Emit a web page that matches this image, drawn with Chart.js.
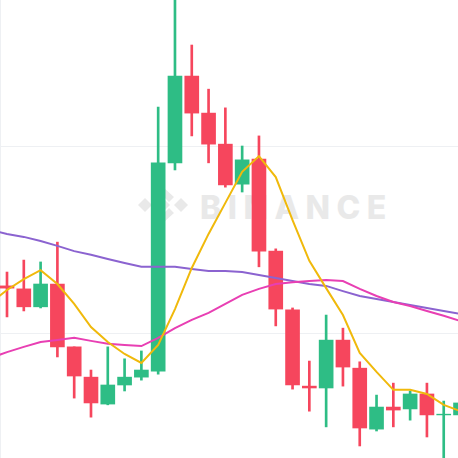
<!DOCTYPE html>
<html>
<head>
<meta charset="utf-8">
<script src="https://cdn.jsdelivr.net/npm/chart.js@4.4.1/dist/chart.umd.min.js"></script>
<style>
  html, body { margin: 0; padding: 0; background: #fff; }
  #wrap { position: relative; width: 458px; height: 458px; overflow: hidden; }
  #mark { position: absolute; left: 138px; top: 187px; height: 36px; display: flex; align-items: center; z-index: 0; }
  #mark span { font-family: "Inter", "DejaVu Sans", sans-serif; font-weight: 800; font-size: 32px; letter-spacing: 6.5px; color: #E9E9E9; margin-left: 12px; line-height: 36px; padding-top: 6px; }
  #chartBox { position: absolute; left: 0; top: 0; width: 458px; height: 458px; z-index: 1; }
</style>
</head>
<body>
<div id="wrap">
  <div id="mark">
    <svg width="50" height="36" viewBox="0 0 50 36">
      <g fill="#E9E9E9">
        <polygon points="25,0 36,10 31,15 25,9 19,15 14,10"/>
        <polygon points="25,36 36,26 31,21 25,27 19,21 14,26"/>
        <polygon points="25,11 32,18 25,25 18,18"/>
        <polygon points="0,18 7,11 14,18 7,25"/>
        <polygon points="36,18 43,11 50,18 43,25"/>
      </g>
    </svg>
    <span>BINANCE</span>
  </div>
  <div id="chartBox"><canvas id="klineChart"></canvas></div>
</div>
<script>
// candles, index 0..27
const opens  = [112.6, 111.8, 107.0, 113.1, 96.3, 88.2, 81.0, 86.1, 88.2, 89.8, 145.5, 168.7, 158.8, 150.5, 139.8, 146.5, 121.9, 106.2, 85.8, 85.3, 98.1, 90.6, 74.3, 80.2, 79.7, 83.7, 78.1, 78.1];
const highs  = [116.3, 119.5, 119.0, 124.3, 96.3, 90.1, 96.3, 93.1, 95.2, 160.4, 192.0, 177.0, 165.2, 160.2, 150.0, 152.7, 122.5, 106.7, 92.5, 104.8, 101.3, 92.3, 83.4, 86.6, 84.5, 86.6, 81.8, 82.1];
const lows   = [104.3, 105.9, 106.7, 93.6, 82.6, 77.5, 80.8, 84.5, 87.4, 89.0, 143.6, 152.7, 145.5, 139.0, 137.7, 117.7, 101.9, 85.0, 79.1, 74.9, 85.8, 69.8, 73.8, 74.9, 76.7, 72.2, 63.0, 77.3];
const closes = [112.0, 107.0, 113.1, 96.3, 88.5, 81.3, 86.1, 88.2, 90.1, 145.5, 168.7, 158.8, 150.5, 139.6, 146.3, 121.9, 106.4, 86.1, 85.3, 98.1, 90.9, 74.6, 80.2, 79.4, 83.7, 78.1, 78.3, 81.3];

// moving averages, index -1..27
const ma7  = [108.0, 111.5, 114.4, 116.8, 113.1, 107.8, 101.6, 97.6, 94.4, 92.0, 96.8, 106.4, 117.4, 126.5, 134.8, 143.1, 147.3, 141.7, 130.2, 119.3, 112.0, 104.8, 94.7, 89.6, 84.8, 84.8, 83.7, 80.8, 79.1];
const ma25 = [93.3, 94.9, 96.3, 97.6, 98.1, 98.7, 97.9, 97.1, 96.8, 96.5, 98.7, 101.3, 103.5, 105.4, 107.8, 110.2, 111.8, 113.1, 113.6, 113.9, 114.2, 113.9, 111.8, 109.9, 108.3, 107.2, 105.9, 104.6, 103.2];
const ma99 = [127.5, 126.5, 125.7, 124.6, 123.3, 121.9, 120.9, 119.8, 118.7, 117.7, 117.7, 117.7, 117.1, 116.6, 116.6, 116.3, 115.5, 114.7, 113.9, 113.1, 112.6, 111.2, 109.9, 109.1, 108.3, 107.5, 106.7, 105.9, 105.1];

const gridPrices = [100, 150];
const gridIndex = [14];

const UP = "#2EBD85";
const DOWN = "#F6465D";

const candleColors = opens.map((o, i) => closes[i] >= o ? UP : DOWN);
const bodies = opens.map((o, i) => ({ x: i, y: [o, closes[i]] }));
const wicks = lows.map((l, i) => ({ x: i, y: [l, highs[i]] }));
const toLine = arr => arr.map((v, i) => ({ x: i - 1, y: v }));

const hideSize = s => { s.width = 0; s.height = 0; };

new Chart(document.getElementById("klineChart"), {
  data: {
    datasets: [
      { type: "line", data: toLine(ma7), borderColor: "#F0B90B", borderWidth: 2, pointRadius: 0, tension: 0, order: 0 },
      { type: "line", data: toLine(ma25), borderColor: "#E83FB3", borderWidth: 2, pointRadius: 0, tension: 0, order: 0 },
      { type: "line", data: toLine(ma99), borderColor: "#8B63D0", borderWidth: 2, pointRadius: 0, tension: 0, order: 0 },
      { type: "bar", data: bodies, backgroundColor: candleColors, borderColor: candleColors, borderWidth: 0, barThickness: 14, grouped: false, order: 1 },
      { type: "bar", data: wicks, backgroundColor: candleColors, borderWidth: 0, barThickness: 2, grouped: false, order: 2 }
    ]
  },
  options: {
    responsive: true,
    maintainAspectRatio: false,
    animation: false,
    layout: { padding: 0 },
    plugins: { legend: { display: false }, tooltip: { enabled: false } },
    scales: {
      x: {
        type: "linear",
        min: -0.417,
        max: 26.85,
        offset: false,
        ticks: { display: false },
        border: { display: false },
        grid: { color: "#EEF0F3", lineWidth: 1, drawTicks: false },
        afterBuildTicks: s => { s.ticks = gridIndex.map(v => ({ value: v })); },
        afterFit: hideSize
      },
      y: {
        min: 66.58,
        max: 189.04,
        ticks: { display: false },
        border: { display: false },
        grid: { color: "#EEF0F3", lineWidth: 1, drawTicks: false },
        afterBuildTicks: s => { s.ticks = gridPrices.map(v => ({ value: v })); },
        afterFit: hideSize
      }
    }
  }
});
</script>
</body>
</html>
